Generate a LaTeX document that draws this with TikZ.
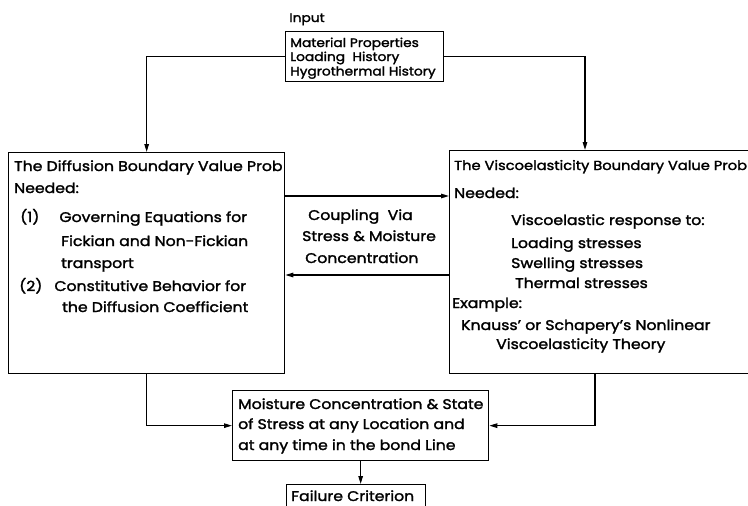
\documentclass[tikz,border=0pt]{standalone}
\usepackage{fontspec}
\setmainfont{Poppins}[FakeStretch=1.12, FakeBold=1.8]
\usetikzlibrary{arrows.meta,calc}
\tikzset{
  box/.style={draw, line width=1.3pt, rectangle, inner sep=0pt},
  txt/.style={anchor=base west, inner sep=0pt, font=\fontsize{14}{16}\selectfont},
  stxt/.style={txt, font=\fontsize{12.3}{14}\selectfont},
  arr/.style={line width=1.3pt, -{Triangle[length=8pt,width=4.5pt]}},
}
\begin{document}
\begin{tikzpicture}[x=1pt,y=-1pt]
\clip (0,0) rectangle (748,506);
\fill[white] (0,0) rectangle (748,506);
% boxes
\node[box, anchor=north west, minimum width=158, minimum height=50] (input) at (285,31) {};
\node[box, anchor=north west, minimum width=276, minimum height=221] (diff) at (8,152) {};
\node[box, anchor=north west, minimum width=320, minimum height=223] (visco) at (449,150) {};
\node[box, anchor=north west, minimum width=256, minimum height=70] (state) at (232,390) {};
\node[box, anchor=north west, minimum width=139, minimum height=30] (fail) at (286,484) {};
% input text
\node[stxt, anchor=base] (inlab) at (307,22) {Input};
\node[stxt] (i1) at (290,47) {Material Properties};
\node[stxt] (i2) at (290,61) {Loading\ \ History};
\node[stxt] (i3) at (290,75.5) {Hygrothermal History};
% diffusion text
\node[txt] (d0) at (14,171) {The Diffusion Boundary Value Prob};
\node[txt] (d1) at (14,193) {Needed:};
\node[txt] (d2) at (20,222) {(1)\hspace{20pt}Governing Equations for};
\node[txt] (d3) at (61,246) {Fickian and Non-Fickian};
\node[txt] (d4) at (61,268) {transport};
\node[txt] (d5) at (19,291) {(2)\hspace{12pt}Constitutive Behavior for};
\node[txt] (d6) at (62,312) {the Diffusion Coefficient};
% coupling text
\node[txt] (c1) at (308,220) {Coupling\ \ Via};
\node[txt] (c2) at (302,241) {Stress \& Moisture};
\node[txt] (c3) at (305,263) {Concentration};
% visco text
\node[txt, font=\fontsize{13.1}{16}\selectfont] (v0) at (454,170) {The Viscoelasticity Boundary Value Prob};
\node[txt] (v1) at (454,198) {Needed:};
\node[txt] (v2) at (511,225) {Viscoelastic response to:};
\node[txt] (v3) at (511,248) {Loading stresses};
\node[txt] (v4) at (511,268) {Swelling stresses};
\node[txt] (v5) at (515,288) {Thermal stresses};
\node[txt] (v6) at (452,308) {Example:};
\node[txt] (v7) at (461,330) {Knauss' or Schapery's Nonlinear};
\node[txt] (v8) at (496,349) {Viscoelasticity Theory};
% state text
\node[txt] (s1) at (238,409) {Moisture Concentration \& State};
\node[txt] (s2) at (238,429) {of Stress at any Location and};
\node[txt] (s3) at (238,450) {at any time in the bond Line};
\node[txt] (f1) at (291,501) {Failure Criterion};
% connectors
\coordinate (vtop) at ($(visco.north west)+(136,0)$);
\coordinate (vbot) at ($(visco.south west)+(146,0)$);
\draw[arr] (input.west) -| (diff.north);
\draw[arr] (input.east) -| (vtop);
\draw[arr] (diff.north east |- 0,196) -- (visco.west |- 0,196);
\draw[arr] (visco.west |- 0,275) -- (diff.north east |- 0,275);
\draw[arr] (diff.south) |- (state.west);
\draw[arr] (vbot) |- (state.east);
\draw[arr] (state.south) -- (state.south |- fail.north);
\end{tikzpicture}
\end{document}
